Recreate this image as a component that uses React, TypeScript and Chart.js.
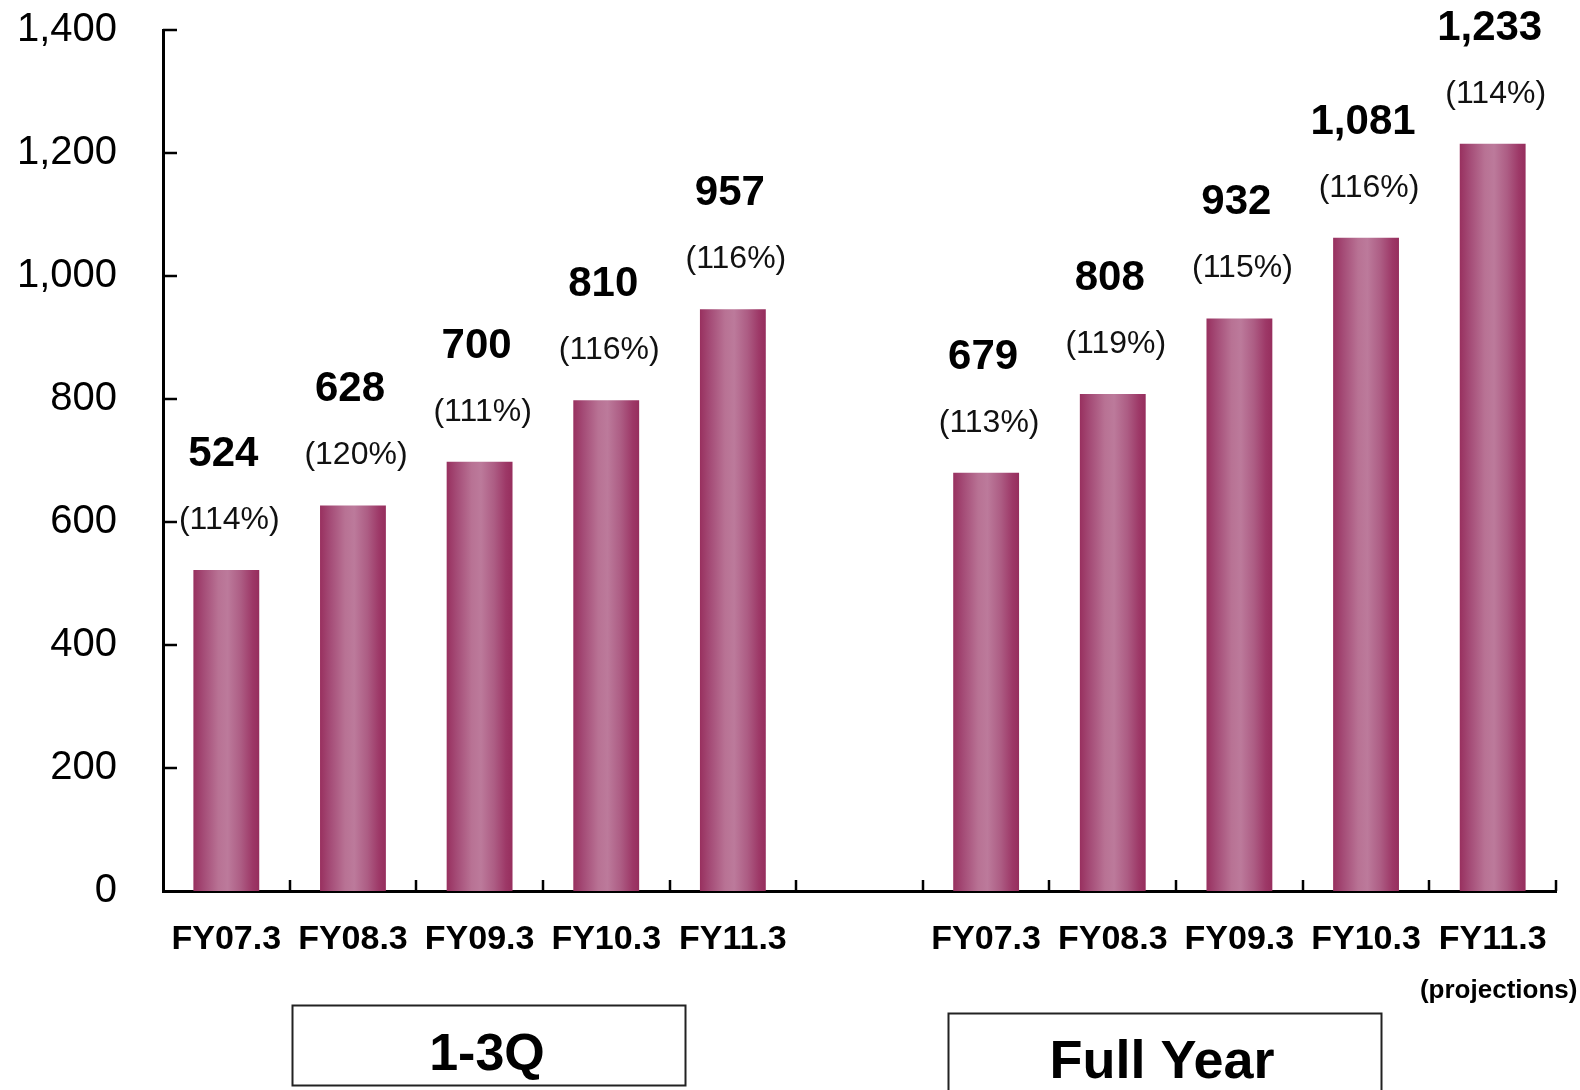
import React, { useEffect, useRef } from "react";
import { Chart, registerables } from "chart.js";

Chart.register(...registerables);

// ---- data ----
const categories = ["FY07.3", "FY08.3", "FY09.3", "FY10.3", "FY11.3", "", "FY07.3", "FY08.3", "FY09.3", "FY10.3", "FY11.3"];
const barValues: (number | null)[] = [522, 627, 698, 798, 946, null, 680, 808, 931, 1062, 1215];
const valueLabels = ["524", "628", "700", "810", "957", "", "679", "808", "932", "1,081", "1,233"];
const growthLabels = ["(114%)", "(120%)", "(111%)", "(116%)", "(116%)", "", "(113%)", "(119%)", "(115%)", "(116%)", "(114%)"];
const yTickValues = [0, 200, 400, 600, 800, 1000, 1200, 1400];
const groupLabels = ["1-3Q", "Full Year"];
const projectionNote = "(projections)";

const FONT = '"Liberation Sans", Arial, Helvetica, sans-serif';
const W = 1580;
const H = 1090;
const BAR_PCT = 0.52;
const BAR_DARK = "#9b3464";

function barGradient(chart: any, dataIndex: number) {
  const xs = chart.scales?.x;
  if (!xs || dataIndex === undefined || dataIndex === null) return BAR_DARK;
  const cx = xs.getPixelForValue(dataIndex);
  const half = ((xs.right - xs.left) / categories.length) * BAR_PCT / 2;
  if (!isFinite(cx) || !isFinite(half) || half <= 0) return BAR_DARK;
  const g = chart.ctx.createLinearGradient(cx - half, 0, cx + half, 0);
  g.addColorStop(0, "#98305f");
  g.addColorStop(0.15, "#a44b76");
  g.addColorStop(0.38, "#b87294");
  g.addColorStop(0.52, "#bc7a9b");
  g.addColorStop(0.72, "#ad5d84");
  g.addColorStop(0.9, "#9d3867");
  g.addColorStop(1, "#962e5d");
  return g;
}

const annotPlugin = {
  id: "annot",
  afterDraw(chart: any) {
    const ctx = chart.ctx as CanvasRenderingContext2D;
    const xs = chart.scales.x;
    const ys = chart.scales.y;
    const area = chart.chartArea;
    ctx.save();
    // tick marks (inside)
    ctx.strokeStyle = "#000";
    ctx.lineWidth = 2.5;
    for (let i = 1; i <= categories.length; i++) {
      const x = Math.round(xs.getPixelForValue(i - 0.5));
      ctx.beginPath();
      ctx.moveTo(x, area.bottom);
      ctx.lineTo(x, area.bottom - 11);
      ctx.stroke();
    }
    yTickValues.forEach((v) => {
      if (v === 0) return;
      const y = Math.round(ys.getPixelForValue(v));
      ctx.beginPath();
      ctx.moveTo(area.left, y);
      ctx.lineTo(area.left + 14, y);
      ctx.stroke();
    });

    // value and growth labels
    const meta = chart.getDatasetMeta(0);
    meta.data.forEach((el: any, i: number) => {
      if (barValues[i] == null) return;
      ctx.fillStyle = "#000";
      ctx.textAlign = "center";
      ctx.textBaseline = "alphabetic";
      ctx.font = `bold 42px ${FONT}`;
      ctx.fillText(valueLabels[i], el.x - 3, el.y - 104);
      ctx.fillStyle = "#111";
      ctx.font = `32px ${FONT}`;
      ctx.fillText(growthLabels[i], el.x + 3, el.y - 41);
    });

    // projections note under last category
    const lastX = xs.getPixelForValue(categories.length - 1);
    ctx.fillStyle = "#000";
    ctx.font = `bold 26px ${FONT}`;
    ctx.textAlign = "center";
    ctx.textBaseline = "middle";
    ctx.fillText(projectionNote, lastX + 6, 991);

    // group boxes
    ctx.strokeStyle = "#222";
    ctx.lineWidth = 2;
    ctx.strokeRect(292.5, 1005.5, 393, 80);
    ctx.strokeRect(948.5, 1013.5, 433, 90);
    ctx.textBaseline = "alphabetic";
    ctx.fillStyle = "#000";
    ctx.font = `bold 52px ${FONT}`;
    ctx.fillText(groupLabels[0], 487, 1070);
    ctx.font = `bold 54px ${FONT}`;
    ctx.fillText(groupLabels[1], 1162, 1078);
    ctx.restore();
  },
};

export default function App() {
  const canvasRef = useRef<HTMLCanvasElement | null>(null);

  useEffect(() => {
    const canvas = canvasRef.current;
    if (!canvas) return;
    const chart = new Chart(canvas, {
      type: "bar",
      data: {
        labels: categories,
        datasets: [
          {
            data: barValues as any,
            backgroundColor: (c: any) => barGradient(c.chart, c.dataIndex),
            borderWidth: 0,
            barPercentage: BAR_PCT,
            categoryPercentage: 1,
          },
        ],
      },
      options: {
        animation: false,
        responsive: false,
        devicePixelRatio: 1,
        layout: { padding: { top: 30, right: 24, left: 0, bottom: 0 } },
        plugins: { legend: { display: false }, tooltip: { enabled: false } },
        scales: {
          x: {
            offset: true,
            grid: { display: false, drawTicks: false },
            border: { display: true, color: "#000", width: 3 },
            ticks: {
              color: "#000",
              font: { family: FONT, size: 34, weight: "bold" },
              padding: 28,
              autoSkip: false,
              maxRotation: 0,
              minRotation: 0,
            },
            afterFit: (s: any) => {
              s.height = 199;
              s.paddingLeft = 0;
              s.paddingRight = 0;
            },
          },
          y: {
            min: 0,
            max: 1400,
            grid: { display: false, drawTicks: false },
            border: { display: true, color: "#000", width: 3 },
            ticks: {
              stepSize: 200,
              color: "#000",
              padding: 46,
              font: { family: FONT, size: 40 },
              callback: (v: any) => Number(v).toLocaleString("en-US"),
            },
            afterFit: (s: any) => {
              s.width = 163;
              s.paddingTop = 0;
              s.paddingBottom = 0;
            },
          },
        },
      },
      plugins: [annotPlugin],
    });
    return () => chart.destroy();
  }, []);

  return (
    <div style={{ position: "absolute", left: 0, top: 0, width: W, height: H, background: "#fff" }}>
      <canvas ref={canvasRef} width={W} height={H} style={{ width: W, height: H, display: "block" }} />
    </div>
  );
}
